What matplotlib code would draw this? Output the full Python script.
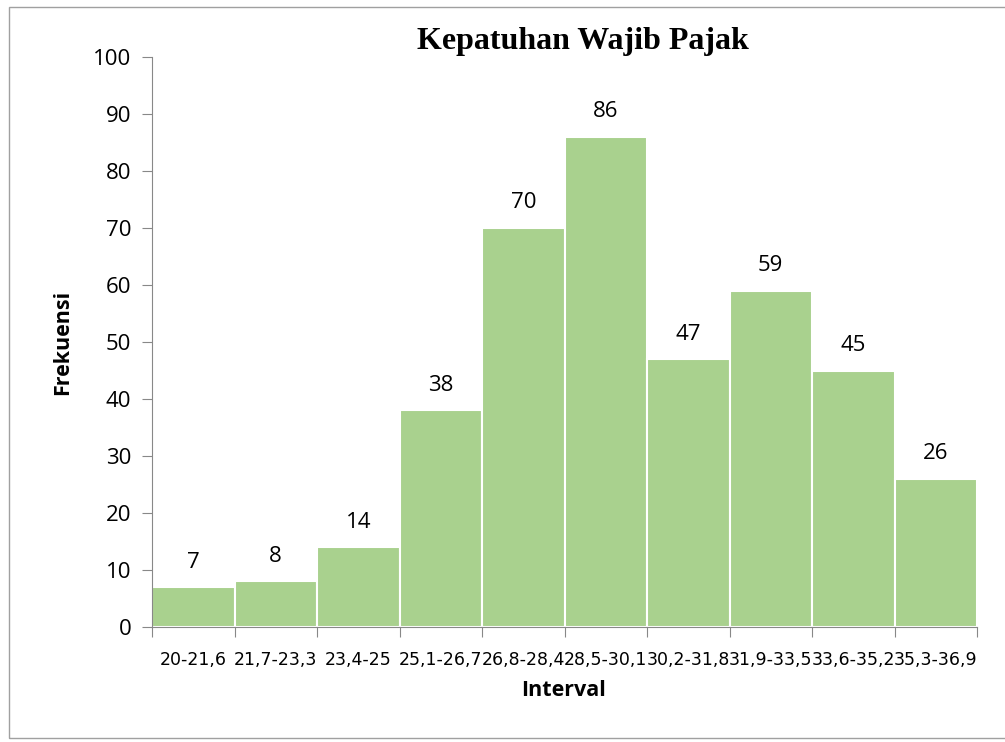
import matplotlib
matplotlib.use('Agg')
import matplotlib.pyplot as plt
from matplotlib.patches import Rectangle

intervals = ['20-21,6', '21,7-23,3', '23,4-25', '25,1-26,7', '26,8-28,4',
             '28,5-30,1', '30,2-31,8', '31,9-33,5', '33,6-35,2', '35,3-36,9']
frekuensi = [7, 8, 14, 38, 70, 86, 47, 59, 45, 26]

plt.rcParams['font.family'] = ['Open Sans', 'DejaVu Sans']

fig = plt.figure(figsize=(10.05, 7.42), dpi=100)
fig.patches.append(Rectangle((9 / 1005, 4 / 742), 1.0, 731 / 742, transform=fig.transFigure,
                             fill=False, edgecolor='#a0a0a0', linewidth=1))
ax = fig.add_axes([152 / 1005, 1 - 627 / 742, 825 / 1005, 570 / 742])

x = list(range(len(frekuensi)))
ax.bar(x, frekuensi, width=1.0, color='#a9d18e', edgecolor='white', linewidth=1.5)
for xi, v in zip(x, frekuensi):
    ax.annotate(str(v), (xi, v), xytext=(0, 18), textcoords='offset points',
                ha='center', va='center', fontsize=16)

ax.set_xlim(-0.5, len(frekuensi) - 0.5)
ax.set_ylim(0, 100)
ax.set_yticks(range(0, 101, 10))
ax.set_xticks([i - 0.5 for i in range(len(frekuensi) + 1)])
ax.set_xticklabels([])
ax.set_xticks(x, minor=True)
ax.set_xticklabels(intervals, minor=True, fontsize=12.5,
                   family=['Liberation Sans Narrow', 'DejaVu Sans'])
ax.tick_params(axis='x', which='minor', length=0, pad=17)
ax.tick_params(axis='x', which='major', length=7, color='#888888')
ax.tick_params(axis='y', length=7, color='#888888', labelsize=16, pad=8)

for s in ['top', 'right']:
    ax.spines[s].set_visible(False)
ax.spines['left'].set_color('#888888')
ax.spines['bottom'].set_color('#888888')

ax.set_ylabel('Frekuensi', fontsize=15.5, fontweight='bold')
ax.set_xlabel('Interval', fontsize=15.5, fontweight='bold')
ax.yaxis.set_label_coords((73 - 152) / 825, (627 - 342) / 570)
ax.xaxis.set_label_coords((564 - 152) / 825, -(680 - 627) / 570)
fig.text(583 / 1005, 1 - 42 / 742, 'Kepatuhan Wajib Pajak', ha='center', va='center',
         fontsize=23, fontweight='bold', family=['Liberation Serif', 'DejaVu Serif'])

fig.savefig('out.png', dpi=100)
